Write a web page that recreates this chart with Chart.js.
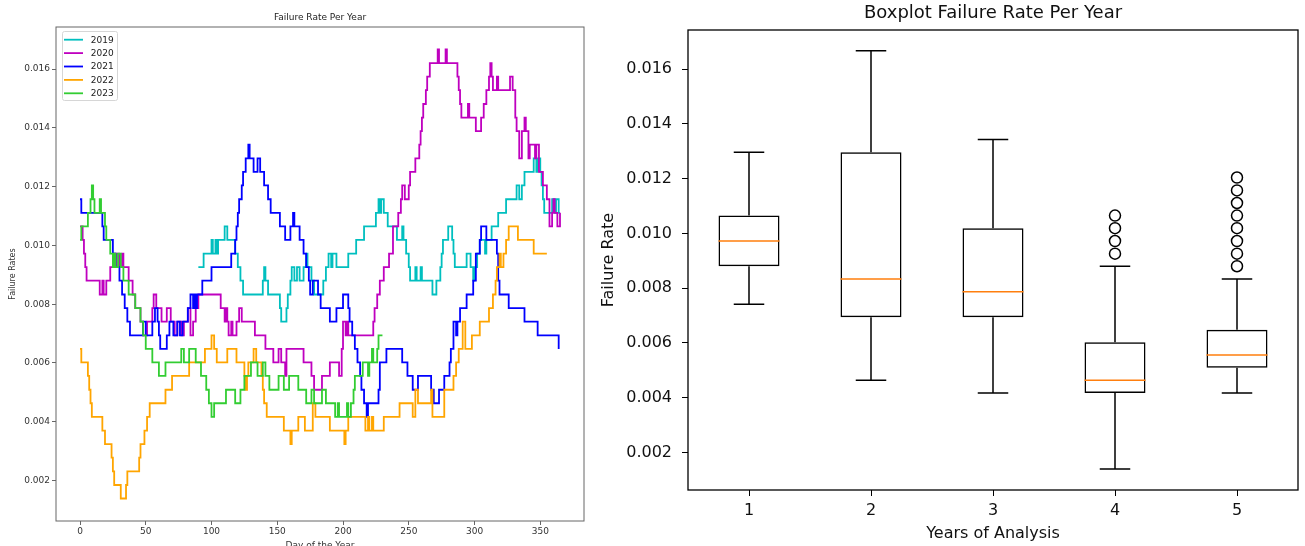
<!DOCTYPE html>
<html lang="en">
<head>
<meta charset="utf-8">
<script src="https://cdn.jsdelivr.net/npm/chart.js/dist/chart.umd.min.js"></script>
<style>
  html, body { margin: 0; padding: 0; background: #fff; overflow: hidden; }
  body { width: 1305px; height: 546px; position: relative; }
  #lineBox { position: absolute; left: 0; top: 0; width: 600px; height: 556px; }
  #boxBox { position: absolute; left: 592px; top: 0; width: 713px; height: 546px; }
</style>
</head>
<body>
<div id="lineBox"><canvas id="lineChart"></canvas></div>
<div id="boxBox"><canvas id="boxChart"></canvas></div>
<script>
// series names and colours (matplotlib c, m, b, orange, limegreen)
const years = ['2019', '2020', '2021', '2022', '2023'];
const colors = ['#00bfbf', '#bf00bf', '#0000ff', '#ffa500', '#32cd32'];

// rolling failure rate, [day, rate] at every change of the value
const rate2019 = [[90,0.00926],[94,0.00972],[100,0.01019],[101,0.00972],[103,0.01019],[104,0.00972],[105,0.01019],[110,0.01065],[112,0.01019],[118,0.00972],[120,0.00926],[122,0.0088],[124,0.00833],[139,0.0088],[140,0.00926],[141,0.0088],[143,0.00833],[152,0.00787],[153,0.00741],[157,0.00787],[158,0.00833],[160,0.0088],[161,0.00926],[163,0.0088],[165,0.00926],[167,0.0088],[170,0.00926],[172,0.00972],[173,0.00926],[176,0.0088],[178,0.00833],[185,0.0088],[187,0.00926],[189,0.00972],[191,0.00926],[192,0.00972],[195,0.00926],[204,0.00972],[210,0.01019],[216,0.01065],[225,0.01111],[227,0.01157],[228,0.01111],[229,0.01157],[231,0.01111],[234,0.01065],[241,0.01019],[245,0.01065],[246,0.01019],[248,0.00972],[250,0.00926],[251,0.0088],[255,0.00926],[256,0.0088],[259,0.00926],[260,0.0088],[268,0.00833],[271,0.0088],[274,0.00926],[275,0.00972],[276,0.01019],[280,0.01065],[283,0.01019],[284,0.00972],[285,0.00926],[294,0.00972],[297,0.00926],[299,0.0088],[300,0.00926],[302,0.00972],[304,0.01019],[308,0.00972],[309,0.01019],[313,0.01065],[318,0.01111],[324,0.01157],[332,0.01204],[334,0.01157],[336,0.01204],[338,0.0125],[345,0.01296],[347,0.0125],[348,0.01296],[350,0.0125],[351,0.01204],[352,0.01157],[353,0.01111],[359,0.01157],[361,0.01111],[362,0.01157],[364,0.01111],[365,0.01111]];
const rate2020 = [[0,0.01065],[2,0.01019],[3,0.00972],[4,0.00926],[5,0.0088],[15,0.00833],[17,0.0088],[18,0.00833],[20,0.0088],[23,0.00926],[25,0.00972],[27,0.00926],[28,0.00972],[30,0.00926],[32,0.00972],[33,0.00926],[37,0.0088],[40,0.00833],[42,0.00787],[46,0.00741],[48,0.00694],[51,0.00741],[55,0.00787],[56,0.00833],[58,0.00787],[62,0.00741],[66,0.00787],[69,0.00741],[72,0.00694],[74,0.00741],[77,0.00694],[79,0.00741],[82,0.00787],[84,0.00694],[86,0.00741],[88,0.00787],[90,0.00833],[107,0.00787],[110,0.00741],[111,0.00787],[112,0.00741],[113,0.00694],[115,0.00741],[116,0.00694],[119,0.00741],[121,0.00787],[123,0.00741],[133,0.00694],[141,0.00648],[147,0.00602],[151,0.00648],[153,0.00602],[156,0.00556],[157,0.00648],[170,0.00602],[176,0.00556],[178,0.00509],[184,0.00556],[190,0.00602],[197,0.00556],[199,0.00648],[200,0.00741],[202,0.00694],[203,0.00741],[204,0.00694],[223,0.00741],[224,0.00787],[226,0.00833],[228,0.0088],[231,0.00926],[235,0.00972],[238,0.01065],[242,0.01111],[244,0.01157],[245,0.01204],[247,0.01157],[250,0.01204],[251,0.0125],[255,0.01296],[258,0.01343],[259,0.01389],[260,0.01435],[261,0.01481],[263,0.01528],[264,0.01574],[266,0.0162],[272,0.01667],[273,0.0162],[278,0.01667],[279,0.0162],[287,0.01574],[288,0.01528],[289,0.01481],[290,0.01435],[295,0.01481],[296,0.01435],[301,0.01389],[305,0.01435],[307,0.01481],[309,0.01528],[311,0.01574],[312,0.0162],[313,0.01574],[314,0.01528],[317,0.01574],[318,0.01528],[327,0.01574],[329,0.01528],[331,0.01435],[332,0.01389],[334,0.01296],[336,0.01389],[338,0.01435],[339,0.01389],[341,0.01296],[342,0.01343],[346,0.01296],[347,0.01343],[349,0.0125],[352,0.01204],[355,0.01157],[357,0.01065],[359,0.01111],[360,0.01157],[361,0.01111],[363,0.01065],[365,0.01111]];
const rate2021 = [[0,0.01157],[1,0.01111],[17,0.01065],[18,0.01019],[25,0.00972],[27,0.00926],[30,0.0088],[32,0.00833],[34,0.00787],[36,0.00741],[38,0.00694],[48,0.00741],[50,0.00694],[55,0.00741],[57,0.00787],[59,0.00741],[60,0.00694],[61,0.00648],[66,0.00694],[68,0.00741],[71,0.00694],[74,0.00741],[76,0.00694],[78,0.00741],[82,0.00787],[84,0.00833],[86,0.00787],[87,0.00833],[88,0.00787],[89,0.00833],[93,0.0088],[100,0.00926],[115,0.00972],[118,0.01019],[119,0.01065],[120,0.01111],[121,0.01157],[123,0.01204],[124,0.0125],[126,0.01296],[128,0.01343],[129,0.01296],[132,0.0125],[135,0.01296],[137,0.0125],[140,0.01204],[143,0.01157],[145,0.01111],[152,0.01065],[156,0.01019],[160,0.01065],[162,0.01111],[163,0.01065],[167,0.01019],[170,0.00972],[172,0.00926],[174,0.0088],[175,0.00833],[177,0.0088],[181,0.00833],[183,0.00787],[190,0.00741],[195,0.00787],[200,0.00833],[204,0.00787],[205,0.00741],[207,0.00694],[209,0.00648],[211,0.00602],[213,0.00556],[214,0.00509],[216,0.00463],[218,0.00417],[219,0.00463],[227,0.00509],[228,0.00602],[233,0.00648],[245,0.00602],[249,0.00556],[253,0.00509],[257,0.00556],[267,0.00509],[269,0.00463],[273,0.00509],[277,0.00556],[281,0.00602],[282,0.00648],[284,0.00741],[286,0.00694],[287,0.00741],[289,0.00787],[294,0.00833],[299,0.0088],[301,0.00972],[304,0.01019],[305,0.01065],[309,0.01019],[317,0.00972],[318,0.0088],[319,0.00833],[326,0.00787],[338,0.00741],[348,0.00694],[364,0.00648]];
const rate2022 = [[0,0.00648],[1,0.00602],[6,0.00556],[7,0.00509],[8,0.00463],[9,0.00417],[17,0.0037],[19,0.00324],[24,0.00278],[25,0.00231],[26,0.00185],[31,0.00139],[35,0.00185],[36,0.00231],[45,0.00278],[46,0.00324],[49,0.0037],[51,0.00417],[53,0.00463],[65,0.00509],[70,0.00556],[83,0.00602],[95,0.00648],[100,0.00694],[102,0.00648],[104,0.00602],[112,0.00648],[119,0.00602],[125,0.00556],[126,0.00509],[127,0.00556],[128,0.00602],[132,0.00648],[134,0.00602],[138,0.00556],[139,0.00509],[140,0.00463],[142,0.00417],[155,0.0037],[160,0.00324],[161,0.0037],[166,0.00417],[171,0.0037],[177,0.00463],[179,0.00417],[190,0.0037],[201,0.00324],[202,0.0037],[204,0.00417],[217,0.0037],[219,0.00417],[220,0.0037],[222,0.00417],[223,0.0037],[231,0.00417],[243,0.00463],[253,0.00417],[255,0.00509],[257,0.00463],[267,0.00509],[268,0.00417],[277,0.00509],[284,0.00556],[286,0.00602],[288,0.00648],[291,0.00741],[293,0.00648],[298,0.00694],[304,0.00741],[311,0.00787],[314,0.00833],[316,0.0088],[317,0.00926],[319,0.00972],[320,0.00926],[322,0.00972],[324,0.01019],[326,0.01065],[333,0.01019],[345,0.00972],[355,0.00972]];
const rate2023 = [[0,0.01019],[1,0.01065],[6,0.01111],[8,0.01157],[9,0.01204],[10,0.01157],[11,0.01111],[15,0.01157],[16,0.01111],[19,0.01065],[20,0.01019],[23,0.00972],[25,0.00926],[26,0.00972],[27,0.00926],[29,0.00972],[31,0.00926],[33,0.0088],[37,0.00833],[42,0.00787],[46,0.00741],[48,0.00694],[50,0.00648],[55,0.00602],[60,0.00556],[65,0.00602],[77,0.00648],[79,0.00602],[83,0.00648],[88,0.00602],[92,0.00556],[96,0.00509],[98,0.00463],[100,0.00417],[102,0.00463],[111,0.00509],[118,0.00463],[122,0.00509],[125,0.00556],[130,0.00602],[135,0.00556],[139,0.00602],[141,0.00556],[144,0.00509],[151,0.00556],[155,0.00509],[159,0.00556],[166,0.00509],[172,0.00463],[176,0.00509],[178,0.00463],[184,0.00509],[187,0.00463],[194,0.00417],[196,0.00463],[197,0.00417],[203,0.00463],[204,0.00417],[206,0.00463],[208,0.00509],[209,0.00556],[215,0.00602],[219,0.00556],[220,0.00602],[222,0.00648],[223,0.00602],[226,0.00648],[227,0.00694],[230,0.00694]];

const dayTicks = [0, 50, 100, 150, 200, 250, 300, 350];
const rateTicks = [0.002, 0.004, 0.006, 0.008, 0.010, 0.012, 0.014, 0.016];

// boxplot summary per year of analysis
const boxYears = ['1', '2', '3', '4', '5'];
const whiskerLow = [0.00741, 0.00463, 0.00417, 0.00139, 0.00417];
const quart1 = [0.0088, 0.00694, 0.00694, 0.00417, 0.00509];
const medians = [0.00972, 0.00833, 0.00787, 0.00463, 0.00556];
const quart3 = [0.01065, 0.01296, 0.01019, 0.00602, 0.00648];
const whiskerHigh = [0.01296, 0.01667, 0.01343, 0.0088, 0.00833];
const fliers = [[], [], [], [0.00926, 0.00972, 0.01019, 0.01065],
  [0.0088, 0.00926, 0.00972, 0.01019, 0.01065, 0.01111, 0.01157, 0.01204]];

const FONT = "'DejaVu Sans', sans-serif";
Chart.defaults.font.family = FONT;

// axes box like matplotlib spines
const framePlugin = {
  id: 'frame',
  afterDraw(chart, args, opts) {
    const { ctx, chartArea: a } = chart;
    ctx.save();
    ctx.strokeStyle = opts.color;
    ctx.lineWidth = opts.width;
    ctx.strokeRect(a.left, a.top, a.right - a.left, a.bottom - a.top);
    ctx.restore();
  }
};

// legend in the upper left corner of the plot
const legendInside = {
  id: 'legendInside',
  afterDatasetsDraw(chart, args, o) {
    if (!o.show) return;
    const { ctx, chartArea } = chart;
    const x = chartArea.left + o.left, y = chartArea.top + o.top;
    ctx.save();
    ctx.beginPath();
    ctx.roundRect(x + 0.5, y + 0.5, o.width, o.height, 2);
    ctx.fillStyle = 'rgba(255,255,255,0.8)';
    ctx.fill();
    ctx.strokeStyle = '#d6d6d6';
    ctx.lineWidth = 1;
    ctx.stroke();
    ctx.font = '9px ' + FONT;
    ctx.textBaseline = 'middle';
    chart.data.datasets.forEach((ds, i) => {
      const cy = y + o.firstRow + i * o.rowGap;
      ctx.strokeStyle = ds.borderColor;
      ctx.lineWidth = ds.borderWidth;
      ctx.beginPath();
      ctx.moveTo(x + 2, cy);
      ctx.lineTo(x + 21, cy);
      ctx.stroke();
      ctx.fillStyle = '#222';
      ctx.fillText(ds.label, x + 28.7, cy + 0.5);
    });
    ctx.restore();
  }
};

const series = [rate2019, rate2020, rate2021, rate2022, rate2023];

new Chart(document.getElementById('lineChart'), {
  type: 'line',
  data: {
    datasets: series.map((s, i) => ({
      label: years[i],
      data: s.map(p => ({ x: p[0], y: p[1] })),
      borderColor: colors[i],
      borderWidth: 1.8,
      pointRadius: 0,
      stepped: true,
      order: series.length - i
    }))
  },
  options: {
    responsive: true,
    maintainAspectRatio: false,
    animation: false,
    events: [],
    layout: { padding: { left: 0, right: 16, top: 0, bottom: 0 } },
    plugins: {
      legend: { display: false },
      tooltip: { enabled: false },
      title: {
        display: true, fullSize: false, text: 'Failure Rate Per Year', color: '#222',
        font: { size: 9, weight: 'normal' }, padding: { top: 12.6, bottom: 3.6 }
      },
      frame: { color: '#666', width: 1 },
      legendInside: { show: true, left: 6, top: 4, width: 55, height: 69, firstRow: 8.7, rowGap: 13.4 }
    },
    scales: {
      x: {
        type: 'linear', min: -18.25, max: 383.25,
        afterBuildTicks: s => { s.ticks = dayTicks.map(v => ({ value: v })); },
        afterFit: s => { s.height = 35; },
        ticks: { color: '#333', font: { size: 9 }, padding: 1, autoSkip: false, maxRotation: 0, callback: v => String(v) },
        grid: { drawOnChartArea: false, drawTicks: true, tickLength: 4, color: '#666' },
        border: { display: false },
        title: { display: true, text: 'Day of the Year', color: '#333', font: { size: 9 }, padding: { top: 0, bottom: 5 } }
      },
      y: {
        type: 'linear', min: 0.000625, max: 0.01743,
        afterBuildTicks: s => { s.ticks = rateTicks.map(v => ({ value: v })); },
        afterFit: s => { s.width = 56; },
        ticks: { color: '#333', font: { size: 9 }, padding: 2, autoSkip: false, callback: v => v.toFixed(3) },
        grid: { drawOnChartArea: false, drawTicks: true, tickLength: 4, color: '#666' },
        border: { display: false },
        title: { display: true, text: 'Failure Rates', color: '#333', font: { size: 8 }, padding: { top: 7.7, bottom: 0 } }
      }
    }
  },
  plugins: [framePlugin, legendInside]
});

// boxplot pieces: box half width 0.25, cap half width 0.125 (x units)
const boxHalf = 0.25, capHalf = 0.125;
const whiskerPts = [], capPts = [], medianPts = [], flierPts = [];
boxYears.forEach((c, i) => {
  const x = i + 1;
  whiskerPts.push({ x, y: whiskerLow[i] }, { x, y: quart1[i] }, { x, y: null },
                  { x, y: quart3[i] }, { x, y: whiskerHigh[i] }, { x, y: null });
  capPts.push({ x: x - capHalf, y: whiskerLow[i] }, { x: x + capHalf, y: whiskerLow[i] }, { x, y: null },
              { x: x - capHalf, y: whiskerHigh[i] }, { x: x + capHalf, y: whiskerHigh[i] }, { x, y: null });
  medianPts.push({ x: x - boxHalf, y: medians[i] }, { x: x + boxHalf, y: medians[i] }, { x, y: null });
  fliers[i].forEach(v => flierPts.push({ x, y: v }));
});

const blackLine = { borderColor: '#000', borderWidth: 1.5, pointRadius: 0, spanGaps: false, borderCapStyle: 'butt' };

new Chart(document.getElementById('boxChart'), {
  type: 'line',
  data: {
    datasets: [
      {
        type: 'bar',
        data: boxYears.map((c, i) => ({ x: i + 1, y: [quart1[i], quart3[i]] })),
        backgroundColor: 'rgba(0,0,0,0)', borderColor: '#000', borderWidth: 1.5,
        borderSkipped: false, categoryPercentage: 1, barPercentage: 0.5, order: 4
      },
      Object.assign({ data: whiskerPts, order: 3 }, blackLine),
      Object.assign({ data: capPts, order: 2 }, blackLine),
      Object.assign({}, blackLine, { data: medianPts, borderColor: '#ff7f0e', order: 1 }),
      {
        type: 'scatter', data: flierPts, order: 0,
        pointStyle: 'circle', pointRadius: 5.5, pointBorderWidth: 1.5,
        borderColor: '#000', backgroundColor: 'rgba(0,0,0,0)'
      }
    ]
  },
  options: {
    responsive: true,
    maintainAspectRatio: false,
    animation: false,
    events: [],
    layout: { padding: { left: 0, right: 6, top: 0, bottom: 0 } },
    plugins: {
      legend: { display: false },
      tooltip: { enabled: false },
      title: {
        display: true, fullSize: false, text: 'Boxplot Failure Rate Per Year', color: '#111',
        font: { size: 18, weight: 'normal' }, padding: { top: 3, bottom: 5.4 }
      },
      frame: { color: '#000', width: 1.3 }
    },
    scales: {
      x: {
        type: 'linear', min: 0.5, max: 5.5, offset: false,
        afterBuildTicks: s => { s.ticks = boxYears.map((c, i) => ({ value: i + 1 })); },
        afterFit: s => { s.height = 56; },
        ticks: { color: '#111', font: { size: 16 }, padding: 5, autoSkip: false, maxRotation: 0,
                 callback: v => boxYears[v - 1] },
        grid: { offset: false, drawOnChartArea: false, drawTicks: true, tickLength: 6, color: '#000' },
        border: { display: false },
        title: { display: true, text: 'Years of Analysis', color: '#111', font: { size: 16 }, padding: { top: 0, bottom: 2.6 } }
      },
      y: {
        type: 'linear', min: 0.000625, max: 0.01743,
        afterBuildTicks: s => { s.ticks = rateTicks.map(v => ({ value: v })); },
        afterFit: s => { s.width = 96; },
        ticks: { color: '#111', font: { size: 16 }, padding: 10, autoSkip: false, callback: v => v.toFixed(3) },
        grid: { drawOnChartArea: false, drawTicks: true, tickLength: 6, color: '#000' },
        border: { display: false },
        title: { display: true, text: 'Failure Rate', color: '#111', font: { size: 16 }, padding: { top: 7.4, bottom: 0 } }
      }
    }
  },
  plugins: [framePlugin]
});
</script>
</body>
</html>
